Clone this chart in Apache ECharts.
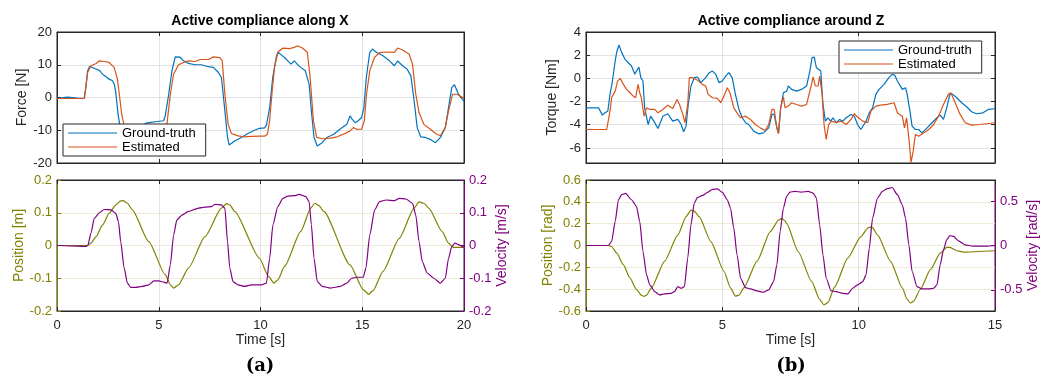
<!DOCTYPE html>
<html><head><meta charset="utf-8">
<script src="https://cdn.jsdelivr.net/npm/echarts/dist/echarts.min.js"></script>
<style>html,body{margin:0;padding:0;background:#fff}#c{width:1057px;height:380px}</style>
</head><body><div id="c"></div>
<script>
// ---------- DATA ----------
const titles = ['Active compliance along X', 'Active compliance around Z'];
const panelLabels = ['(a)', '(b)'];
const legendNames = ['Ground-truth', 'Estimated'];

// Panel (a) top: force along X [N] as [time s, value]
const forceX_truth = [[0,-0.3],[0.5,0.1],[1.0,-0.2],[1.33,-0.3],[1.42,3],[1.5,8],[1.6,9.5],[1.67,9.9],[1.8,9.0],[1.92,8.7],[2.1,8.2],[2.24,7.1],[2.4,6.4],[2.56,5.6],[2.73,5.1],[2.82,4.0],[2.89,1.5],[3.0,-5.1],[3.08,-8.2],[3.2,-10.5],[3.4,-11.5],[3.7,-11],[4.0,-10],[4.35,-7.9],[4.6,-7.6],[4.84,-7.4],[5.24,-7.1],[5.32,-5.6],[5.49,1],[5.65,8.2],[5.81,12.4],[6.05,12.3],[6.22,11.2],[6.46,10.4],[6.79,10],[7.1,10],[7.44,9.4],[7.68,9.2],[7.92,7.7],[8.08,6.1],[8.15,2],[8.25,-4.1],[8.38,-12.2],[8.46,-14.5],[8.73,-13.3],[9.06,-12.2],[9.38,-11],[9.71,-10],[9.95,-9.4],[10.2,-9.3],[10.3,-8.2],[10.45,-3.1],[10.6,6.1],[10.77,12.2],[10.85,13.8],[11.0,13.1],[11.18,12.2],[11.34,11.2],[11.5,10.2],[11.66,11.2],[11.8,10.2],[11.98,9.2],[12.2,8.2],[12.39,4.1],[12.5,-4.1],[12.63,-12.2],[12.79,-14.8],[13.03,-13.8],[13.27,-12.2],[13.6,-11.2],[13.9,-9.7],[14.24,-8.2],[14.4,-5.6],[14.5,-6.6],[14.65,-7.7],[14.8,-7.1],[14.97,-6.1],[15.08,-3.1],[15.2,6.1],[15.37,13.8],[15.5,14.8],[15.69,13.8],[16.0,12.8],[16.34,11.2],[16.58,9.7],[16.74,11.2],[16.98,9.7],[17.2,8.7],[17.39,6.6],[17.55,-1],[17.7,-9.2],[17.87,-12],[18.1,-12.2],[18.35,-12.8],[18.6,-13.8],[18.84,-12.2],[19.08,-9.2],[19.24,-3.1],[19.4,3.1],[19.53,3.9],[19.73,1],[20,-1.2]];
const forceX_est = [[0,-0.3],[1.0,-0.3],[1.35,-0.3],[1.43,4],[1.51,7.7],[1.67,9.7],[1.92,10.4],[2.08,11.2],[2.32,11],[2.56,10.7],[2.81,9.2],[2.97,5.6],[3.08,0],[3.18,-5.1],[3.3,-8.7],[3.45,-10.8],[3.8,-11.3],[4.5,-11],[5.2,-10.5],[5.4,-8.2],[5.57,1],[5.73,7.1],[5.97,10],[6.22,10.7],[6.46,11.2],[6.79,11],[7.03,11.6],[7.44,11.6],[7.68,12.4],[8.0,12.2],[8.12,11.2],[8.25,1],[8.41,-8.2],[8.57,-11],[8.9,-11.7],[9.22,-12],[9.55,-11.9],[9.95,-11.8],[10.2,-11.8],[10.34,-11.2],[10.45,-7.1],[10.56,1],[10.69,9.2],[10.85,13.8],[11.1,15.1],[11.42,14.9],[11.66,15.3],[11.82,15.8],[12.06,15.1],[12.3,13.8],[12.44,6.1],[12.6,-7.1],[12.76,-12.2],[13.03,-12.6],[13.44,-12.4],[13.76,-12],[14.08,-11.2],[14.4,-10.2],[14.56,-9.2],[14.73,-9.7],[14.97,-9.7],[15.1,-7.1],[15.21,1],[15.37,8.2],[15.6,12.2],[15.85,13.7],[16.16,13.9],[16.58,13.8],[16.74,15.1],[16.98,14.5],[17.3,13.3],[17.47,10.2],[17.63,1],[17.79,-4.6],[18.03,-8.2],[18.35,-9.7],[18.6,-11],[18.84,-11.7],[19.08,-9.2],[19.24,-4.1],[19.44,1],[19.65,1],[20,-0.2]];

// Panel (a) bottom: position [m] and velocity [m/s]
const posX = [[0,0],[1.0,0],[1.51,0],[1.67,0.007],[1.92,0.027],[2.24,0.063],[2.56,0.098],[2.89,0.124],[3.13,0.136],[3.25,0.137],[3.46,0.129],[3.7,0.109],[4.51,0.012],[5.32,-0.089],[5.57,-0.12],[5.73,-0.13],[5.97,-0.12],[6.46,-0.069],[7.27,0.027],[8.08,0.114],[8.33,0.128],[8.49,0.124],[8.73,0.104],[9.95,-0.039],[10.4,-0.095],[10.66,-0.115],[10.85,-0.105],[11.18,-0.064],[11.98,0.043],[12.47,0.114],[12.66,0.129],[12.87,0.122],[13.11,0.104],[14.4,-0.059],[15.05,-0.135],[15.32,-0.149],[15.53,-0.138],[16.02,-0.079],[16.82,0.022],[17.55,0.114],[17.79,0.133],[18.03,0.129],[18.27,0.114],[18.92,0.043],[19.24,0.007],[19.48,-0.006],[20,-0.006]];
const velX = [[0,0],[1.0,-0.002],[1.43,-0.003],[1.51,0],[1.67,0.038],[1.83,0.083],[2.08,0.1],[2.32,0.11],[2.65,0.109],[2.89,0.098],[3.02,0.073],[3.13,0.012],[3.3,-0.069],[3.46,-0.115],[3.62,-0.128],[3.86,-0.128],[4.19,-0.125],[4.51,-0.12],[4.76,-0.108],[5.0,-0.108],[5.24,-0.112],[5.41,-0.115],[5.57,-0.059],[5.73,0.032],[5.89,0.078],[6.14,0.093],[6.46,0.104],[6.95,0.114],[7.27,0.117],[7.6,0.119],[7.76,0.126],[8.08,0.124],[8.25,0.114],[8.38,0.012],[8.49,-0.069],[8.65,-0.11],[8.9,-0.12],[9.22,-0.125],[9.55,-0.12],[10.05,-0.12],[10.29,-0.115],[10.45,-0.039],[10.61,0.063],[10.85,0.119],[11.1,0.144],[11.34,0.151],[11.66,0.152],[11.9,0.156],[12.23,0.149],[12.39,0.134],[12.5,0.063],[12.63,-0.039],[12.79,-0.11],[13.03,-0.125],[13.44,-0.13],[13.92,-0.125],[14.24,-0.115],[14.48,-0.1],[14.73,-0.097],[15.05,-0.097],[15.18,-0.069],[15.37,0.032],[15.61,0.109],[15.85,0.134],[16.18,0.139],[16.58,0.137],[16.82,0.144],[17.15,0.142],[17.47,0.129],[17.63,0.093],[17.79,0.012],[17.95,-0.049],[18.19,-0.084],[18.52,-0.1],[18.84,-0.115],[19.08,-0.1],[19.24,-0.039],[19.4,-0.003],[19.56,0.007],[19.76,0.002],[20,-0.006]];

// Panel (b) top: torque around Z [Nm]
const torqueZ_truth = [[0,-2.54],[0.46,-2.54],[0.52,-2.68],[0.6,-3.17],[0.7,-2.97],[0.8,-2.82],[0.88,-1.38],[0.97,-0.23],[1.07,1.5],[1.13,2.3],[1.21,2.88],[1.31,2.22],[1.43,1.64],[1.55,1.35],[1.67,1.07],[1.79,0.35],[1.85,0.63],[1.94,0.98],[2.01,0.06],[2.09,-0.23],[2.15,-2.54],[2.28,-3.98],[2.37,-3.26],[2.49,-3.69],[2.64,-4.32],[2.82,-3.26],[3.0,-3.05],[3.18,-3.69],[3.37,-3.54],[3.49,-3.98],[3.58,-4.61],[3.67,-4.12],[3.75,-2.25],[3.85,-0.66],[3.97,0.06],[4.09,0.12],[4.21,-0.37],[4.39,0.06],[4.52,0.49],[4.64,0.63],[4.76,0.35],[4.88,-0.37],[5.0,-0.23],[5.12,0.2],[5.24,0.49],[5.36,0.06],[5.48,-1.38],[5.61,-2.68],[5.73,-3.4],[5.85,-3.83],[5.97,-3.98],[6.15,-4.55],[6.33,-4.78],[6.51,-4.7],[6.7,-4.27],[6.82,-3.11],[6.9,-3.11],[7.0,-4.27],[7.06,-4.7],[7.14,-2.54],[7.24,-1.24],[7.36,-1.1],[7.42,-0.66],[7.54,-0.95],[7.72,-1.1],[7.9,-0.95],[8.09,-0.66],[8.21,0.63],[8.29,1.79],[8.37,1.84],[8.45,0.92],[8.51,0.78],[8.61,0.63],[8.69,-2.25],[8.78,-3.69],[8.87,-3.4],[8.97,-3.69],[9.06,-3.4],[9.18,-3.83],[9.3,-3.54],[9.42,-3.69],[9.54,-3.4],[9.72,-3.11],[9.84,-3.26],[9.96,-3.98],[10.08,-4.41],[10.27,-3.69],[10.39,-2.97],[10.51,-2.54],[10.63,-1.38],[10.75,-0.95],[10.93,-0.52],[11.11,0.06],[11.23,0.35],[11.32,0.29],[11.42,-0.23],[11.6,-0.95],[11.72,-0.81],[11.78,-1.38],[11.88,-2.82],[11.96,-4.12],[12.08,-4.41],[12.2,-4.41],[12.32,-4.7],[12.51,-4.27],[12.69,-3.83],[12.87,-3.4],[12.99,-3.17],[13.11,-3.54],[13.23,-2.54],[13.35,-1.33],[13.45,-1.38],[13.6,-1.67],[13.78,-2.1],[13.96,-2.45],[14.14,-2.88],[14.32,-3.05],[14.56,-2.97],[14.75,-2.68],[15,-2.62]];
const torqueZ_est = [[0,-4.41],[0.76,-4.41],[0.82,-4.27],[0.88,-2.82],[0.94,-1.67],[1.0,-1.38],[1.07,-1.1],[1.16,-0.23],[1.25,0],[1.37,-0.52],[1.49,-0.95],[1.61,-1.24],[1.73,-1.53],[1.82,-1.67],[1.91,-0.52],[1.97,-1.24],[2.03,-1.67],[2.13,-3.26],[2.22,-2.54],[2.34,-2.68],[2.52,-2.68],[2.64,-2.97],[2.82,-2.68],[3.0,-2.31],[3.18,-2.59],[3.34,-1.82],[3.43,-2.25],[3.55,-3.11],[3.63,-3.83],[3.73,-2.25],[3.79,0.06],[3.91,0.06],[4.09,-0.17],[4.27,-0.52],[4.39,-0.66],[4.48,-1.38],[4.64,-1.67],[4.82,-1.73],[4.94,-2.1],[5.06,-1.53],[5.18,-0.81],[5.28,-1.24],[5.42,-2.54],[5.54,-2.97],[5.67,-3.4],[5.85,-3.26],[6.03,-3.54],[6.21,-3.98],[6.39,-4.27],[6.57,-4.5],[6.7,-3.98],[6.82,-2.68],[6.9,-2.68],[7.0,-4.27],[7.06,-4.78],[7.14,-2.54],[7.24,-1.6],[7.3,-2.54],[7.42,-2.39],[7.54,-2.1],[7.72,-2.25],[7.9,-2.39],[8.09,-2.25],[8.24,-0.81],[8.33,0.12],[8.41,-0.66],[8.51,-0.66],[8.57,0.2],[8.66,-1.38],[8.73,-3.98],[8.81,-5.27],[8.9,-3.98],[9.0,-3.69],[9.18,-3.83],[9.36,-3.69],[9.54,-3.98],[9.72,-3.54],[9.84,-3.05],[9.96,-3.34],[10.15,-3.69],[10.33,-3.83],[10.45,-2.82],[10.63,-2.39],[10.81,-2.31],[11.05,-2.25],[11.3,-2.1],[11.42,-2.97],[11.6,-3.26],[11.68,-4.27],[11.76,-3.4],[11.84,-5.13],[11.92,-7.25],[12.0,-6.28],[12.08,-4.84],[12.2,-4.99],[12.39,-4.7],[12.57,-4.41],[12.75,-3.98],[12.93,-3.26],[13.11,-2.25],[13.29,-1.38],[13.38,-1.24],[13.54,-2.1],[13.72,-3.11],[13.91,-3.83],[14.14,-4.03],[14.44,-3.98],[15,-3.83]];

// Panel (b) bottom: position [rad] and velocity [rad/s]
const posZ = [[0,0],[0.82,0],[0.94,-0.009],[1.13,-0.07],[1.37,-0.176],[1.61,-0.297],[1.85,-0.403],[2.03,-0.455],[2.12,-0.467],[2.22,-0.455],[2.4,-0.388],[2.88,-0.145],[3.37,0.097],[3.67,0.264],[3.85,0.324],[3.97,0.315],[4.15,0.264],[4.58,0.036],[5.06,-0.236],[5.3,-0.388],[5.48,-0.464],[5.61,-0.455],[5.79,-0.388],[6.27,-0.145],[6.76,0.127],[7.06,0.233],[7.18,0.248],[7.3,0.225],[7.36,0.2],[7.78,-0.055],[8.27,-0.327],[8.57,-0.494],[8.73,-0.545],[8.87,-0.524],[9.12,-0.379],[9.6,-0.115],[10.08,0.082],[10.35,0.164],[10.43,0.168],[10.51,0.164],[10.69,0.097],[11.17,-0.145],[11.6,-0.388],[11.78,-0.494],[11.9,-0.527],[12.02,-0.509],[12.26,-0.403],[12.63,-0.221],[12.99,-0.07],[13.23,-0.018],[13.35,-0.018],[13.6,-0.048],[13.84,-0.061],[15,-0.048]];
const velZ = [[0,0],[0.82,0],[0.94,0.045],[1.07,0.272],[1.19,0.517],[1.31,0.574],[1.45,0.59],[1.67,0.517],[1.85,0.442],[1.97,0.272],[2.09,-0.068],[2.22,-0.332],[2.34,-0.445],[2.52,-0.521],[2.7,-0.558],[2.88,-0.547],[3.12,-0.54],[3.24,-0.521],[3.37,-0.464],[3.49,-0.483],[3.61,-0.464],[3.73,-0.143],[3.85,0.234],[3.97,0.479],[4.09,0.543],[4.27,0.566],[4.46,0.6],[4.64,0.635],[4.82,0.64],[5.0,0.6],[5.18,0.517],[5.3,0.423],[5.42,0.196],[5.54,-0.106],[5.67,-0.37],[5.85,-0.475],[6.03,-0.491],[6.27,-0.513],[6.51,-0.528],[6.7,-0.502],[6.88,-0.408],[7.0,-0.219],[7.12,0.158],[7.24,0.423],[7.36,0.555],[7.48,0.604],[7.66,0.611],[7.9,0.604],[8.15,0.611],[8.33,0.592],[8.45,0.536],[8.57,0.234],[8.69,-0.106],[8.81,-0.37],[8.99,-0.513],[9.18,-0.521],[9.42,-0.54],[9.6,-0.547],[9.78,-0.483],[9.96,-0.445],[10.15,-0.408],[10.27,-0.332],[10.39,-0.03],[10.51,0.309],[10.69,0.536],[10.87,0.611],[11.05,0.642],[11.23,0.655],[11.42,0.574],[11.6,0.46],[11.72,0.309],[11.84,0.008],[11.96,-0.294],[12.14,-0.464],[12.32,-0.491],[12.57,-0.491],[12.75,-0.483],[12.87,-0.445],[12.99,-0.219],[13.11,-0.049],[13.23,0.064],[13.35,0.113],[13.48,0.102],[13.66,0.053],[13.9,0.008],[14.2,-0.008],[14.69,-0.008],[15,0]];

// Tick values for the right velocity axis of panel (b)
const velZTicks = [-0.5, 0, 0.5];

// ---------- STYLE ----------
const FONT = "'Liberation Sans', Arial, Helvetica, sans-serif";
const BLACK = '#262626';
const BLUE = '#0072BD', ORANGE = '#D95319', OLIVE = '#808000', PURPLE = '#800080';
const GRIDGRAY = '#E2E2E2', GRIDOLIVE = '#EBEBD6';

const grids = [
  {left:57, top:32, width:407, height:131},
  {left:57, top:180, width:407, height:131},
  {left:586, top:32, width:409, height:131},
  {left:586, top:180, width:409, height:131}
].map(g => Object.assign({show:true, borderColor:BLACK, borderWidth:1, backgroundColor:'#fff'}, g));

function tick(color){ return {show:true, inside:true, length:4, lineStyle:{color, width:1}}; }
function xMain(gi, max, showLabels){
  return {type:'value', gridIndex:gi, min:0, max, interval:5,
    axisLine:{show:true, onZero:false, lineStyle:{color:BLACK}},
    axisTick:tick(BLACK),
    axisLabel:{show:showLabels, color:BLACK, fontSize:13, fontFamily:FONT, margin:8},
    splitLine:{show:true, lineStyle:{color:GRIDGRAY, width:1}},
    name: showLabels ? 'Time [s]' : '', nameLocation:'middle', nameGap:20,
    nameTextStyle:{color:BLACK, fontSize:14, fontFamily:FONT}};
}
function xTop(gi, max){
  return {type:'value', gridIndex:gi, position:'top', min:0, max, interval:5,
    axisLine:{show:true, onZero:false, lineStyle:{color:BLACK}}, axisTick:tick(BLACK),
    axisLabel:{show:false}, splitLine:{show:false}};
}
function yAx(o){
  const c = o.color || BLACK;
  const ax = {type:'value', gridIndex:o.gi, position:o.pos, min:o.min, max:o.max,
    axisLine:{show:true, onZero:false, lineStyle:{color:c}},
    axisTick:tick(c),
    axisLabel:{show:o.labels !== false, color:c, fontSize:13, fontFamily:FONT, margin:5},
    splitLine:{show:!!o.split, lineStyle:{color:o.split || GRIDGRAY, width:1}},
    name:o.name || '', nameLocation:'middle', nameGap:o.gap || 25,
    nameTextStyle:{color:c, fontSize:14, fontFamily:FONT}};
  if (o.interval != null) ax.interval = o.interval;
  if (o.splitNumber != null) ax.splitNumber = o.splitNumber;
  if (o.labelValues) { ax.axisLabel.customValues = o.labelValues; ax.axisTick.customValues = o.labelValues; }
  if (o.hideMin) ax.axisLabel.showMinLabel = false;
  return ax;
}

const xAxes = [xMain(0,20,false), xMain(1,20,true), xMain(2,15,false), xMain(3,15,true),
  xTop(0,20), xTop(1,20), xTop(2,15), xTop(3,15)];
const yAxes = [
  yAx({gi:0, pos:'left', min:-20, max:20, interval:10, name:'Force [N]', gap:25, split:GRIDGRAY}),
  yAx({gi:0, pos:'right', min:-20, max:20, interval:10, labels:false}),
  yAx({gi:1, pos:'left', min:-0.2, max:0.2, interval:0.1, name:'Position [m]', gap:27, color:OLIVE, split:GRIDOLIVE}),
  yAx({gi:1, pos:'right', min:-0.2, max:0.2, interval:0.1, name:'Velocity [m/s]', gap:30, color:PURPLE}),
  yAx({gi:2, pos:'left', min:-7.3, max:4, splitNumber:5, name:'Torque [Nm]', gap:27, split:GRIDGRAY, hideMin:true}),
  yAx({gi:2, pos:'right', min:-7.3, max:4, splitNumber:5, labels:false}),
  yAx({gi:3, pos:'left', min:-0.6, max:0.6, interval:0.2, name:'Position [rad]', gap:29, color:OLIVE, split:GRIDOLIVE}),
  yAx({gi:3, pos:'right', min:-0.74, max:0.74, splitNumber:3, name:'Velocity [rad/s]', gap:30, color:PURPLE, labelValues:velZTicks})
];

function line(name, data, xi, yi, color, smooth){
  return {type:'line', name, data, xAxisIndex:xi, yAxisIndex:yi, symbol:'none', showSymbol:false,
    smooth: smooth ? 0.2 : false, smoothMonotone: smooth ? 'x' : undefined,
    lineStyle:{color, width:1.2}, itemStyle:{color}, emphasis:{disabled:true}, silent:true, animation:false, z:2};
}
const series = [
  line(legendNames[0], forceX_truth, 0, 0, BLUE),
  line(legendNames[1], forceX_est, 0, 0, ORANGE),
  line('Position X', posX, 1, 2, OLIVE, true),
  line('Velocity X', velX, 1, 3, PURPLE, true),
  line(legendNames[0], torqueZ_truth, 2, 4, BLUE),
  line(legendNames[1], torqueZ_est, 2, 4, ORANGE),
  line('Position Z', posZ, 3, 6, OLIVE, true),
  line('Velocity Z', velZ, 3, 7, PURPLE, true)
];

const LINE_ICON = 'path://M0,0H49V1.2H0Z';
function legend(left, top){
  return {data:legendNames.map(n => ({name:n, icon:LINE_ICON})), orient:'vertical', left, top,
    itemWidth:49, itemHeight:14, itemGap:0, symbolKeepAspect:true,
    padding:[2,10,2,5], backgroundColor:'#fff', borderColor:BLACK, borderWidth:1, borderRadius:0,
    selectedMode:false, textStyle:{color:'#000', fontSize:13, fontFamily:FONT, lineHeight:14}, z:10};
}

const graphic = [
  {type:'text', x:260, y:21, style:{text:titles[0], font:"bold 14px " + FONT, fill:'#000', align:'center', verticalAlign:'middle'}},
  {type:'text', x:791, y:21, style:{text:titles[1], font:"bold 14px " + FONT, fill:'#000', align:'center', verticalAlign:'middle'}},
  {type:'text', x:260, y:366, style:{text:panelLabels[0], font:"bold 18px 'DejaVu Serif', serif", fill:'#000', align:'center', verticalAlign:'middle'}},
  {type:'text', x:791, y:366, style:{text:panelLabels[1], font:"bold 18px 'DejaVu Serif', serif", fill:'#000', align:'center', verticalAlign:'middle'}}
];

const chart = echarts.init(document.getElementById('c'), null, {renderer:'canvas'});
chart.setOption({
  animation:false,
  backgroundColor:'#fff',
  textStyle:{fontFamily:FONT},
  grid:grids, xAxis:xAxes, yAxis:yAxes, series,
  legend:[legend(63,124), legend(839,41)],
  graphic
});
</script></body></html>
